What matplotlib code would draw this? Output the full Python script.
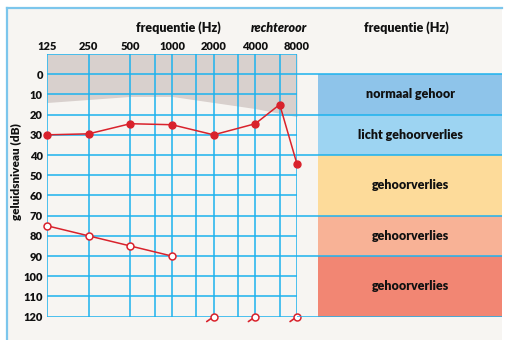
import matplotlib
matplotlib.use("Agg")
import matplotlib.pyplot as plt
from matplotlib.patches import Rectangle
from matplotlib.lines import Line2D
from matplotlib.ticker import NullLocator, FixedLocator

plt.rcParams['font.family'] = ['Lato', 'DejaVu Sans']

# -----------------------------
# data
# -----------------------------
freq_ticks = [125, 250, 500, 1000, 2000, 4000, 8000]
freq_grid = [125, 250, 500, 750, 1000, 1500, 2000, 3000, 4000, 6000, 8000]
db_ticks = list(range(0, 130, 10))

# area of normal hearing (gray band at the top)
normal_freq = [125, 250, 500, 1000, 2000, 4000, 8000]
normal_db = [14, 12.5, 11, 11, 14, 17, 21]

# air conduction, right ear
right_freq = [125, 250, 500, 1000, 2000, 4000, 6000, 8000]
right_db = [30, 29.5, 24.5, 25, 30, 24.5, 15, 44.5]

# bone conduction
bone_freq = [125, 250, 500, 1000]
bone_db = [75, 80, 85, 90]

# no response at the maximum level
nores_freq = [2000, 4000, 8000]
nores_db = [120, 120, 120]

# classification on the right
class_labels = ["normaal gehoor", "licht gehoorverlies", "gehoorverlies",
                "gehoorverlies", "gehoorverlies"]
class_lo = [0, 20, 40, 70, 90]
class_hi = [20, 40, 70, 90, 120]
class_colors = ["#8ec4ea", "#9dd4f2", "#fddb9a", "#f8b296", "#f28673"]

# -----------------------------
# style
# -----------------------------
W, H = 505, 340
bg = "#f7f5f2"
grid_c = "#1db2ee"
frame_c = "#7cc6ec"
red = "#d9222c"
gray = "#d8d0cd"
txt = "#111111"
wt = "heavy"

fig = plt.figure(figsize=(W / 100, H / 100), dpi=100)
fig.patch.set_facecolor("white")

# page background + frame
fig.patches.append(Rectangle((6 / W, 0), (502 - 6) / W, 1 - 8 / H,
                             transform=fig.transFigure, facecolor=bg,
                             edgecolor="none", zorder=-10))
fig.lines.append(Line2D([6.5 / W, 6.5 / W], [0, 1 - 8 / H], transform=fig.transFigure,
                        color=frame_c, lw=1.6, zorder=-5))
fig.lines.append(Line2D([6.5 / W, 502 / W], [1 - 8 / H, 1 - 8 / H], transform=fig.transFigure,
                        color=frame_c, lw=1.6, zorder=-5))

x0, x1 = 47, 297
y_top, y_bot = 54, 316.7
bottom = 1 - y_bot / H
height = (y_bot - y_top) / H

ax = fig.add_axes([x0 / W, bottom, (x1 - x0) / W, height])
ax.set_xscale("log")
ax.set_xlim(125, 8000)
ax.set_ylim(120, -10)
ax.set_facecolor("none")
for s in ax.spines.values():
    s.set_visible(False)

ax.fill_between(normal_freq, -10, normal_db, color=gray, lw=0, zorder=1)

for f in freq_grid:
    ax.axvline(f, color=grid_c, lw=1.1, zorder=2)
for d in range(-10, 130, 10):
    ax.axhline(d, color=grid_c, lw=1.1, zorder=2)

ax.xaxis.tick_top()
ax.xaxis.set_major_locator(FixedLocator(freq_ticks))
ax.xaxis.set_minor_locator(NullLocator())
ax.set_xticklabels([str(f) for f in freq_ticks])
ax.set_yticks(db_ticks)
ax.tick_params(axis="both", length=0, labelsize=8, labelcolor=txt)
ax.tick_params(axis="x", pad=1.5)
ax.tick_params(axis="y", pad=3)
for lab in ax.get_xticklabels() + ax.get_yticklabels():
    lab.set_fontweight(wt)

ax.plot(right_freq, right_db, color=red, lw=1.1, marker="o", ms=5,
        mfc=red, mec=red, zorder=4, clip_on=False)
ax.plot(bone_freq, bone_db, color=red, lw=1.1, marker="o", ms=5,
        mfc="white", mec=red, mew=1.1, zorder=4, clip_on=False)

for f, d in zip(nores_freq, nores_db):
    ax.annotate("", xy=(f, d), xytext=(-5, -3.5), textcoords="offset points",
                arrowprops=dict(arrowstyle="-", color=red, lw=1.2,
                                shrinkA=0, shrinkB=2.5), annotation_clip=False)
ax.plot(nores_freq, nores_db, ls="none", marker="o", ms=5, mfc="white",
        mec=red, mew=1.1, zorder=5, clip_on=False)

fig.text(16 / W, 1 - 172 / H, "geluidsniveau (dB)", rotation=90, ha="center",
         va="center", fontsize=8.5, fontweight=wt, color=txt)
fig.text(178 / W, 1 - 28 / H, "frequentie (Hz)", ha="center", va="center",
         fontsize=9, fontweight=wt, color=txt)
fig.text(279 / W, 1 - 28 / H, "rechteroor", ha="center", va="center",
         fontsize=9, fontweight=wt, style="italic", color=txt)

# classification panel
ax2 = fig.add_axes([x1 / W, bottom, (502 - x1) / W, height])
ax2.set_xlim(0, 205)
ax2.set_ylim(120, -10)
ax2.axis("off")
for lab, lo, hi, c in zip(class_labels, class_lo, class_hi, class_colors):
    ax2.add_patch(Rectangle((21, lo), 184, hi - lo, facecolor=c, edgecolor="none", zorder=1))
    ax2.text(21 + 92, (lo + hi) / 2, lab, ha="center", va="center", fontsize=9,
             fontweight=wt, color=txt, zorder=3)
for d in sorted(set(class_lo + class_hi)):
    ax2.axhline(d, color=grid_c, lw=1.1, zorder=2)

fig.text(406 / W, 1 - 28 / H, "frequentie (Hz)", ha="center", va="center",
         fontsize=9, fontweight=wt, color=txt)

fig.savefig("out.png", dpi=100, facecolor=fig.get_facecolor())
